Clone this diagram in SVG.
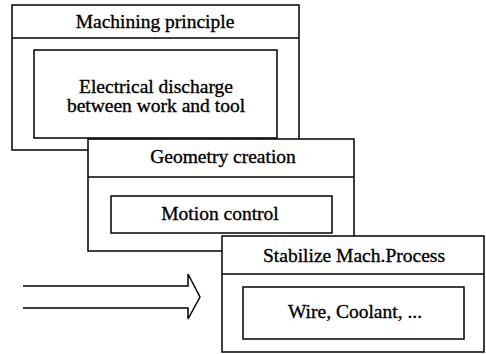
<svg xmlns="http://www.w3.org/2000/svg" width="486" height="354" viewBox="0 0 486 354">
<style>
.box{fill:#fff;stroke:#000;stroke-width:1.5}
.ln{fill:none;stroke:#000;stroke-width:1.5}
.t{font-family:"Liberation Serif","Times New Roman",serif;font-size:19.5px;fill:#000;stroke:#000;stroke-width:0.35;text-anchor:middle}
</style>
<rect width="486" height="354" fill="#fff"/>
<g id="machining-principle">
<rect class="box" x="12" y="5" width="287" height="145"/>
<line class="ln" x1="12" y1="38" x2="299" y2="38"/>
<text class="t" x="155" y="28">Machining principle</text>
<rect class="box" x="34" y="50" width="243" height="88"/>
<text class="t" x="156" y="93">Electrical discharge</text>
<text class="t" x="156" y="112">between work and tool</text>
</g>
<g id="geometry-creation">
<rect class="box" x="88" y="139" width="266" height="112"/>
<line class="ln" x1="88" y1="177" x2="354" y2="177"/>
<text class="t" x="223" y="163">Geometry creation</text>
<rect class="box" x="111" y="196" width="221" height="37"/>
<text class="t" x="220" y="220">Motion control</text>
</g>
<g id="stabilize">
<rect class="box" x="222" y="236" width="262" height="116"/>
<line class="ln" x1="222" y1="274" x2="484" y2="274"/>
<text class="t" x="354" y="262">Stabilize Mach.Process</text>
<rect class="box" x="243" y="287" width="221" height="52"/>
<text class="t" x="355" y="318">Wire, Coolant, ...</text>
</g>
<g id="connectors">
<polyline class="ln" points="23,286 188,286 188,274 200,297 188,319 188,308 23,308"/>
</g>
</svg>
